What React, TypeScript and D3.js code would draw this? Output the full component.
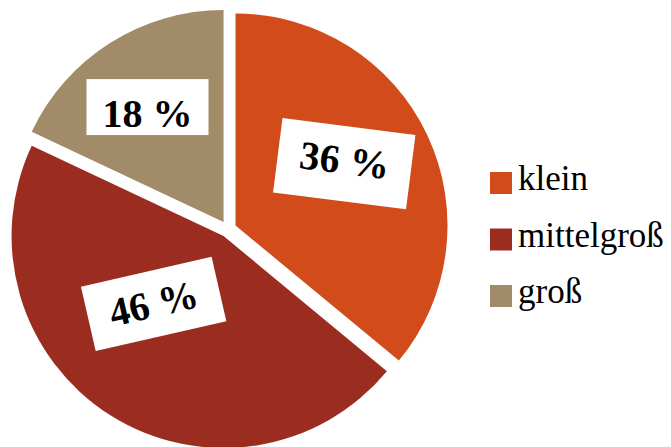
import React from 'react';
import * as d3 from 'd3';

const categories = ['klein', 'mittelgroß', 'groß'];
const values = [36, 46, 18];
const valueLabels = ['36 %', '46 %', '18 %'];
const colors = ['#D14B1B', '#9B2D20', '#A18B68'];

const W = 671;
const H = 447;
const cx = 228;
const cy = 229;
const R = 212;
const explode = 8.3;
const FONT = 'Liberation Serif, Times New Roman, Times, serif';

// label placement (style): radius fraction, angle shift (deg), rotation, box size, baseline offset
const labelPlacement = [
  { r: 0.59, da: -4.4, rot: 7.2, w: 134, h: 75, dy: 10 },
  { r: 0.46, da: 13.4, rot: -12.9, w: 134, h: 66, dy: 13 },
  { r: 0.65, da: -1.1, rot: 0, w: 122, h: 56, dy: 20 },
];

export default function App() {
  const pie = d3.pie<number>().sort(null).value((d) => d).startAngle(0).endAngle(2 * Math.PI);
  const arcs = pie(values);
  const arc = d3.arc<d3.PieArcDatum<number>>().innerRadius(0).outerRadius(R);
  const legendY = d3.scalePoint<string>().domain(categories).range([172, 285]);

  return (
    <svg width={W} height={H} style={{ position: 'absolute', left: 0, top: 0, background: '#fff' }}>
      <g transform={`translate(${cx},${cy})`}>
        {arcs.map((a, i) => {
          const mid = (a.startAngle + a.endAngle) / 2;
          const ox = Math.sin(mid) * explode;
          const oy = -Math.cos(mid) * explode;
          return (
            <g key={categories[i]} transform={`translate(${ox},${oy})`}>
              <path d={arc(a) || ''} fill={colors[i]} />
            </g>
          );
        })}
        {arcs.map((a, i) => {
          const p = labelPlacement[i];
          const mid = (a.startAngle + a.endAngle) / 2;
          const ox = Math.sin(mid) * explode;
          const oy = -Math.cos(mid) * explode;
          const ang = mid + (p.da * Math.PI) / 180;
          const lx = ox + Math.sin(ang) * R * p.r;
          const ly = oy - Math.cos(ang) * R * p.r;
          return (
            <g key={'l' + i} transform={`translate(${lx},${ly}) rotate(${p.rot})`}>
              <rect x={-p.w / 2} y={-p.h / 2} width={p.w} height={p.h} fill="#fff" />
              <text
                x={0}
                y={p.dy}
                textAnchor="middle"
                style={{ fontFamily: FONT, fontWeight: 'bold', fontSize: '40px' }}
                fill="#000"
              >
                {valueLabels[i]}
              </text>
            </g>
          );
        })}
      </g>
      <g>
        {categories.map((c, i) => {
          const y = legendY(c) as number;
          return (
            <g key={c} transform={`translate(490,${y})`}>
              <rect x={0} y={0} width={22} height={22} fill={colors[i]} />
              <text x={28} y={18} style={{ fontFamily: FONT, fontSize: '35px' }} fill="#000">
                {c}
              </text>
            </g>
          );
        })}
      </g>
    </svg>
  );
}
